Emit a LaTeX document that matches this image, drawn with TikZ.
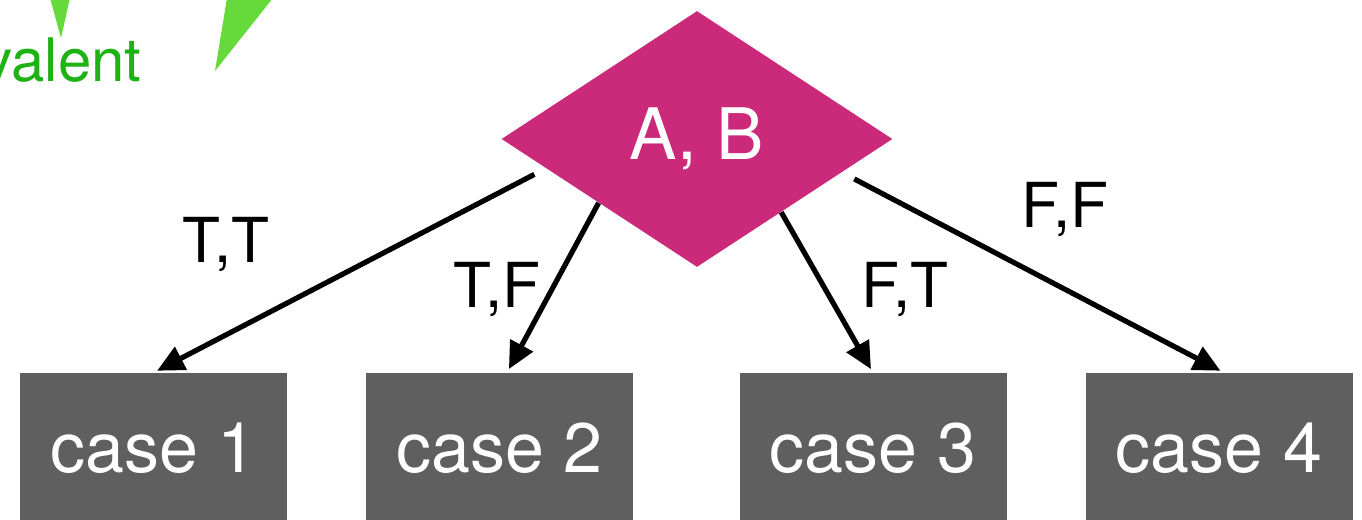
\documentclass[tikz,border=0pt]{standalone}
\usepackage{fontspec}
\setmainfont{TeX Gyre Heros}
\usetikzlibrary{arrows.meta,shapes.geometric,positioning}
\definecolor{myPink}{RGB}{203,42,123}
\definecolor{myGray}{RGB}{95,95,95}
\definecolor{myGreen}{RGB}{30,178,20}
\definecolor{myLightGreen}{RGB}{102,218,58}

\begin{document}
\begin{tikzpicture}[x=0.5pt,y=-0.5pt,>={Triangle[length=13.5pt,width=12.5pt]},
	Edge/.style={->,black,line width=2.6pt,shorten >=2pt},
	Case/.style={rectangle,fill=myGray,text=white,minimum width=133.5pt,minimum height=75pt,font=\fontsize{35}{40}\selectfont},
	Cond/.style={diamond,fill=myPink,text=white,minimum width=195.5pt,minimum height=128pt,inner sep=0pt,font=\fontsize{35.5}{40}\selectfont},
	LabelFont/.style={font=\fontsize{31}{36}\selectfont,anchor=base,inner sep=0pt},
]
	\clip (0,0) rectangle (1362,520);

	% tips of the green callouts
	\fill[myLightGreen] (50,-2) -- (70,-2) -- (61,38) -- cycle;
	\fill[myLightGreen] (227,-2) -- (273,-2) -- (215,71) -- cycle;
	\node[text=myGreen,font=\fontsize{30}{36}\selectfont,anchor=base east,inner sep=0pt] (eq) at (142,81) {valent};

	\node[Cond] (AB) at (697,139) {A, B};
	\node[Case] (c1) at (153.5,448) {case 1};
	\node[Case] (c2) at (499.5,448) {case 2};
	\node[Case] (c3) at (873,448) {case 3};
	\node[Case] (c4) at (1219,448) {case 4};

	\path[Edge]
	(AB.191) edge[shorten <=6.5pt] (c1.north)
	(AB.213) edge ([xshift=3.75pt]c2.north)
	(AB.319) edge (c3.north)
	(AB.347) edge[shorten <=7pt] ([xshift=2.5pt]c4.north)
	;

	\node[LabelFont] (lTT) at (226,262) {T,T};
	\node[LabelFont] (lTF) at (497,307) {T,F};
	\node[LabelFont] (lFT) at (905,307) {F,T};
	\node[LabelFont] (lFF) at (1065,227) {F,F};
\end{tikzpicture}
\end{document}
